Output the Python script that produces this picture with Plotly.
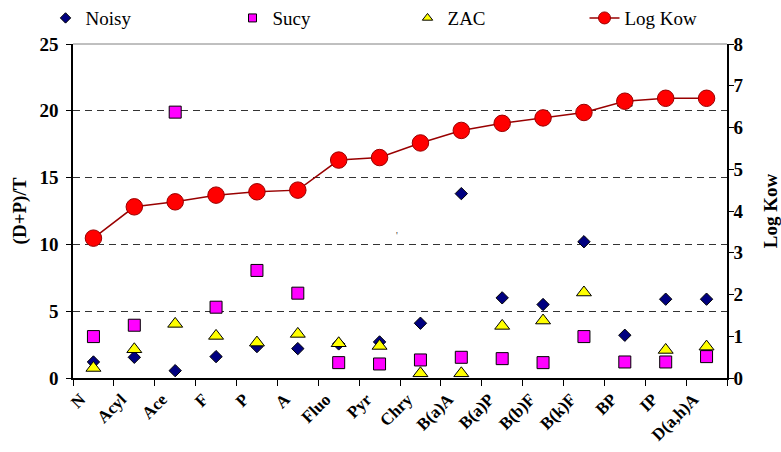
import plotly.graph_objects as go

# PAH compounds, ordered by increasing hydrophobicity
compounds = ["N", "Acyl", "Ace", "F", "P", "A", "Fluo", "Pyr", "Chry",
             "B(a)A", "B(a)P", "B(b)F", "B(k)F", "BP", "IP", "D(a,h)A"]

# (D+P)/T ratio per site
noisy = [1.2, 1.55, 0.55, 1.6, 2.35, 2.2, 2.55, 2.7, 4.1,
         13.8, 6.0, 5.5, 10.2, 3.2, 5.9, 5.9]
sucy = [3.1, 3.95, 19.9, 5.3, 8.05, 6.35, 1.15, 1.05, 1.35,
        1.55, 1.45, 1.15, 3.1, 1.2, 1.2, 1.6]
zac = [0.75, 2.15, 4.05, 3.15, 2.65, 3.3, 2.6, 2.4, 0.35,
       0.35, 3.9, 4.3, 6.4, 20.6, 2.1, 2.35]

# octanol-water partition coefficient (secondary axis)
log_kow = [3.35, 4.1, 4.22, 4.38, 4.46, 4.5, 5.22, 5.28, 5.63,
           5.93, 6.1, 6.23, 6.36, 6.63, 6.7, 6.7]

left_ticks = [0, 5, 10, 15, 20, 25]
right_ticks = [0, 1, 2, 3, 4, 5, 6, 7, 8]

FONT = "Liberation Serif"
NAVY = "#000080"
MAGENTA = "#FF00FF"
YELLOW = "#FFFF00"
RED = "#FF0000"
DARKRED = "#990000"

fig = go.Figure()

fig.add_trace(go.Scatter(
    x=compounds, y=noisy, mode="markers", showlegend=False,
    marker=dict(symbol="diamond", size=9.5, color=NAVY,
                line=dict(color="black", width=1))))
fig.add_trace(go.Scatter(
    x=compounds, y=sucy, mode="markers", showlegend=False,
    marker=dict(symbol="square", size=12, color=MAGENTA,
                line=dict(color="black", width=1))))
fig.add_trace(go.Scatter(
    x=compounds, y=zac, mode="markers", showlegend=False,
    marker=dict(symbol="triangle-up", size=13, color=YELLOW,
                line=dict(color="black", width=1))))
fig.add_trace(go.Scatter(
    x=compounds, y=log_kow, mode="lines+markers", yaxis="y2", showlegend=False,
    line=dict(color=DARKRED, width=1.5),
    marker=dict(symbol="circle", size=16.5, color=RED,
                line=dict(color=DARKRED, width=1))))

# legend entries (one legend box per entry, spread along the top)
fig.add_trace(go.Scatter(
    x=[None], y=[None], mode="markers", name="Noisy", legend="legend",
    marker=dict(symbol="diamond", size=8, color=NAVY, line=dict(color="black", width=1))))
fig.add_trace(go.Scatter(
    x=[None], y=[None], mode="markers", name="Sucy", legend="legend2",
    marker=dict(symbol="square", size=8, color=MAGENTA, line=dict(color="black", width=1))))
fig.add_trace(go.Scatter(
    x=[None], y=[None], mode="markers", name="ZAC", legend="legend3",
    marker=dict(symbol="triangle-up", size=9, color=YELLOW, line=dict(color="black", width=1))))
fig.add_trace(go.Scatter(
    x=[None], y=[None], mode="lines+markers", name="Log Kow", yaxis="y2", legend="legend4",
    line=dict(color=DARKRED, width=1.5),
    marker=dict(symbol="circle", size=12, color=RED, line=dict(color=DARKRED, width=1))))

tick_font = dict(family=FONT, size=19, color="black", weight="bold")


def legend_box(x):
    return dict(
        orientation="h", xref="container", yref="container",
        x=x, xanchor="left", y=0.96, yanchor="middle",
        font=dict(family=FONT, size=19, color="black"),
        bgcolor="rgba(0,0,0,0)", borderwidth=0,
    )


fig.update_layout(
    width=781, height=452,
    margin=dict(l=73, r=54, t=44, b=74),
    paper_bgcolor="white", plot_bgcolor="white",
    font=dict(family=FONT, color="black"),
    xaxis=dict(
        type="category", categoryorder="array", categoryarray=compounds,
        range=[-0.5, len(compounds) - 0.5], automargin=False,
        tickangle=-45, tickson="boundaries", ticks="outside", ticklen=6,
        tickcolor="black", tickwidth=1,
        ticklabelshift=-13, ticklabelstandoff=3,
        tickfont=dict(family=FONT, size=17, color="black", weight="bold"),
        showline=True, linecolor="black", linewidth=1.5,
        showgrid=False, zeroline=False,
    ),
    yaxis=dict(
        range=[0, 25], tickvals=left_ticks, automargin=False,
        ticks="outside", ticklen=5, tickcolor="black", tickwidth=1,
        tickfont=tick_font, ticklabelstandoff=4,
        showline=True, linecolor="black", linewidth=1.5,
        showgrid=True, gridcolor="#333333", gridwidth=1, griddash="7px,5px",
        zeroline=False,
        title=dict(text="(D+P)/T", font=dict(family=FONT, size=19, color="black", weight="bold"),
                   standoff=8),
    ),
    yaxis2=dict(
        range=[0, 8], tickvals=right_ticks, overlaying="y", side="right", automargin=False,
        ticks="outside", ticklen=5, tickcolor="black", tickwidth=1,
        tickfont=tick_font, ticklabelstandoff=-4,
        showline=True, linecolor="black", linewidth=1.5,
        showgrid=False, zeroline=False,
        title=dict(text="Log Kow", font=dict(family=FONT, size=19, color="black", weight="bold"),
                   standoff=22),
    ),
    # inner halves of the crossing tick marks
    yaxis3=dict(
        range=[0, 25], tickvals=left_ticks, overlaying="y", side="left", automargin=False,
        ticks="inside", ticklen=5, tickcolor="black", tickwidth=1,
        showticklabels=False, showline=False, showgrid=False, zeroline=False,
    ),
    yaxis4=dict(
        range=[0, 8], tickvals=right_ticks, overlaying="y", side="right", automargin=False,
        ticks="inside", ticklen=5, tickcolor="black", tickwidth=1,
        showticklabels=False, showline=False, showgrid=False, zeroline=False,
    ),
    legend=legend_box(0.0583),
    legend2=legend_box(0.2977),
    legend3=legend_box(0.5218),
    legend4=legend_box(0.7484),
    shapes=[dict(type="line", xref="paper", yref="paper", x0=0, x1=1, y0=1, y1=1,
                 line=dict(color="#808080", width=1))],
    annotations=[dict(x=7.43, y=10.7, xref="x", yref="y", text="'", showarrow=False,
                      font=dict(family=FONT, size=10, color="#333333"))],
)

fig.write_html("out.html")
